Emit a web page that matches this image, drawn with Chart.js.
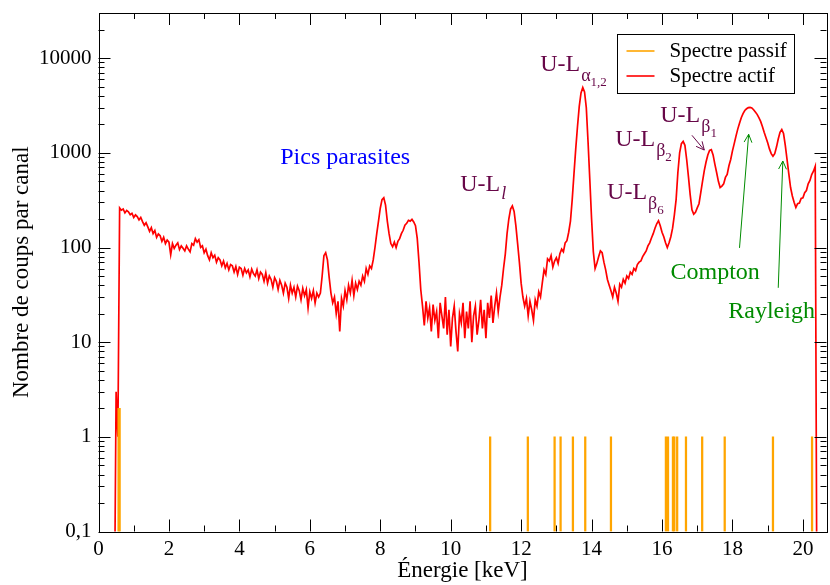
<!DOCTYPE html>
<html>
<head>
<meta charset="utf-8">
<script src="https://cdn.jsdelivr.net/npm/chart.js@4.4.0/dist/chart.umd.min.js"></script>
<style>
  html, body { margin: 0; padding: 0; background: #fff; }
  #wrap { width: 830px; height: 585px; }
</style>
</head>
<body>
<div id="wrap"><canvas id="spectrum" width="830" height="585"></canvas></div>
<script>
'use strict';

// ---- data ------------------------------------------------------------
// active spectrum: counts per channel, channels 0.05 keV wide from 0.45 keV
const channelStart = 0.45;
const channelWidth = 0.05;
const activeCounts = [
  0.01, 3, 1, 262, 248, 255, 232, 246, 238, 222, 230, 208, 221, 212, 196, 208, 188, 172, 183, 165,    // 0.45 - 1.40
  148, 162, 140, 151, 128, 139, 133, 116, 128, 110, 120, 114, 84, 110, 98, 106, 112, 95, 104, 98,     // 1.45 - 2.40
  92, 104, 96, 90, 110, 106, 124, 114, 121, 100, 104, 88, 96, 82, 74, 88, 78, 83, 70, 78,             // 2.45 - 3.40
  74, 64, 72, 61, 68, 58, 66, 64, 55, 63, 52, 62, 60, 51, 60, 54, 58, 49, 59, 53,                    // 3.45 - 4.40
  50, 58, 47, 55, 52, 44, 54, 42, 50, 46, 38, 48, 44, 36, 45, 40, 33, 42, 38, 29,                    // 4.45 - 5.40
  40, 33, 38, 30, 39, 35, 28, 37, 31, 36, 23, 34, 29, 35, 26, 33, 30, 33, 50, 82,                    // 5.45 - 6.40
  88, 74, 48, 33, 26, 30, 20, 27, 13, 29, 24, 35, 28, 40, 33, 45, 31, 42, 36, 44,                    // 6.45 - 7.40
  40, 50, 44, 60, 52, 64, 60, 74, 100, 140, 190, 260, 320, 335, 280, 190, 140, 110, 102, 114,        // 7.45 - 8.40
  100, 116, 124, 140, 152, 172, 180, 194, 190, 198, 186, 170, 125, 70, 36, 24, 15, 27, 18, 23,       // 8.45 - 9.40
  13, 25, 17, 21, 11, 26, 19, 14, 30, 12, 22, 9, 18, 24, 13, 8, 20, 16, 26, 11,                      // 9.45 - 10.40
  21, 14, 27, 10, 19, 24, 12, 17, 28, 14, 22, 11, 26, 18, 31, 16, 24, 33, 21, 30,                    // 10.45 - 11.40
  40, 60, 85, 140, 200, 255, 275, 240, 170, 110, 70, 42, 30, 24, 29, 19, 27, 22, 17, 28,             // 11.45 - 12.40
  24, 34, 30, 42, 58, 52, 76, 72, 82, 62, 72, 78, 68, 86, 96, 90, 112, 118, 145, 190,                // 12.45 - 13.40
  320, 600, 1100, 1900, 3100, 4300, 4900, 4400, 3000, 1300, 520, 200, 90, 60, 68, 80, 92, 88, 70, 58, // 13.45 - 14.40
  46, 40, 35, 30, 38, 33, 27, 41, 38, 46, 42, 50, 47, 55, 52, 60, 57, 66, 70, 72,                    // 14.45 - 15.40
  80, 86, 92, 104, 112, 126, 140, 160, 178, 192, 170, 145, 130, 112, 100, 112, 130, 160, 220, 320,   // 15.45 - 16.40
  620, 1000, 1250, 1320, 1200, 850, 560, 360, 250, 225, 235, 262, 290, 380, 500, 650, 800, 950, 1060, 1080, // 16.45 - 17.40
  950, 760, 620, 500, 430, 445, 470, 550, 590, 730, 850, 1050, 1250, 1500, 1780, 2050, 2350, 2600, 2800, 2920, // 17.45 - 18.40
  3000, 3020, 2980, 2850, 2700, 2550, 2350, 2150, 1900, 1650, 1450, 1280, 1100, 980, 920, 980, 1150, 1400, 1650, 1760, // 18.45 - 19.40
  1600, 1200, 850, 600, 430, 350, 300, 265, 290, 295, 330, 335, 380, 400, 470, 510, 590, 640, 720, 0.01 // 19.45 - 20.40
];

// passive spectrum: the few channels that got a count
const passiveEnergy = [0.57, 0.60, 11.12, 12.19, 12.95, 13.12, 13.47, 13.82, 14.55, 16.11, 16.17, 16.31, 16.35, 16.43, 16.68, 17.14, 17.78, 19.15, 20.26];
const passiveCounts = [2, 2, 1, 1, 1, 1, 1, 1, 1, 1, 1, 1, 1, 1, 1, 1, 1, 1, 1];

const seriesNames = ['Spectre passif', 'Spectre actif'];
const xTicks = [0, 2, 4, 6, 8, 10, 12, 14, 16, 18, 20];
const yTicks = [0.1, 1, 10, 100, 1000, 10000];
const xRange = [0, 20.67];
const yRange = [0.1, 30000];

// peak labels, anchored in data space (keV, counts) at the left baseline
const peakLabels = [
  { e: 10.27, c: 392,  sym: 'l', idx: '',    italic: true },
  { e: 12.54, c: 7280, sym: 'α', idx: '1,2', italic: false },
  { e: 14.67, c: 1172, sym: 'β', idx: '2',   italic: false },
  { e: 15.95, c: 2100, sym: 'β', idx: '1',   italic: false },
  { e: 14.44, c: 322,  sym: 'β', idx: '6',   italic: false }
];
const notes = [
  { e: 5.16,  c: 755,  text: 'Pics parasites', color: '#0000ff' },
  { e: 16.24, c: 47,   text: 'Compton',        color: '#008b00' },
  { e: 17.88, c: 18.2, text: 'Rayleigh',       color: '#008b00' }
];
const arrows = [
  { from: [16.85, 1531], to: [17.20, 1070], color: '#670748' },
  { from: [18.20, 99],   to: [18.46, 1570], color: '#008b00' },
  { from: [19.30, 37.5], to: [19.43, 819],  color: '#008b00' }
];

// ---- styling ------------------------------------------------------------
const FONT = '"Liberation Serif"';
const PURPLE = '#670748';
const COL_PASSIVE = '#ffa500';
const COL_ACTIVE = '#ff0000';

const activePoints = activeCounts.map((c, i) => ({ x: channelStart + i * channelWidth, y: c }));
const passivePoints = passiveEnergy.map((e, i) => ({ x: e, y: passiveCounts[i] }));

// keep the plot frame exactly where the layout padding puts it
const noLabelPadding = s => { s.paddingTop = 0; s.paddingBottom = 0; s.paddingLeft = 0; s.paddingRight = 0; };

// inward ticks on all four sides, frame, legend and annotations
const framePlugin = {
  id: 'frame',
  afterDatasetsDraw(chart) {
    const { ctx, chartArea: a, scales: { x, y } } = chart;
    const snap = v => Math.round(v) + 0.5;
    ctx.save();
    ctx.strokeStyle = '#000';
    ctx.lineWidth = 1;
    ctx.strokeRect(snap(a.left), snap(a.top), Math.round(a.right - a.left), Math.round(a.bottom - a.top));

    ctx.beginPath();
    for (let v = 0; v <= xRange[1]; v += 1) {
      const px = snap(x.getPixelForValue(v));
      const len = v % 2 === 0 ? 12 : 6;
      ctx.moveTo(px, a.bottom); ctx.lineTo(px, a.bottom - len);
      ctx.moveTo(px, a.top); ctx.lineTo(px, a.top + len);
    }
    yTicks.forEach(d => {
      for (let m = 1; m <= 9; m++) {
        const v = d * m;
        if (v >= yRange[1]) break;
        const py = snap(y.getPixelForValue(v));
        const len = m === 1 ? 12 : 6;
        ctx.moveTo(a.left, py); ctx.lineTo(a.left + len, py);
        ctx.moveTo(a.right, py); ctx.lineTo(a.right - len, py);
      }
    });
    ctx.stroke();

    // legend box
    const lx = snap(a.right - 210), ly = snap(a.top + 21);
    ctx.fillStyle = '#fff';
    ctx.fillRect(lx, ly, 177, 59);
    ctx.strokeRect(lx, ly, 177, 59);
    ctx.font = '21px ' + FONT;
    ctx.textBaseline = 'alphabetic';
    ctx.textAlign = 'left';
    [[COL_PASSIVE, 16.5, 22], [COL_ACTIVE, 41.5, 47]].forEach(([col, off, base], i) => {
      ctx.strokeStyle = col;
      ctx.lineWidth = 1.6;
      ctx.beginPath();
      ctx.moveTo(lx + 9, ly + off); ctx.lineTo(lx + 37, ly + off);
      ctx.stroke();
      ctx.fillStyle = '#000';
      ctx.fillText(seriesNames[i], lx + 52, ly + base);
    });

    // peak labels
    peakLabels.forEach(p => {
      const px = x.getPixelForValue(p.e), py = y.getPixelForValue(p.c);
      ctx.fillStyle = PURPLE;
      ctx.font = '24px ' + FONT;
      ctx.fillText('U-L', px, py);
      let cx = px + ctx.measureText('U-L').width + 1;
      ctx.font = (p.italic ? 'italic ' : '') + '18px ' + FONT;
      ctx.fillText(p.sym, cx, py + (p.italic ? 8 : 10));
      cx += ctx.measureText(p.sym).width;
      if (p.idx) {
        ctx.font = '13px ' + FONT;
        ctx.fillText(p.idx, cx, py + 15);
      }
    });

    notes.forEach(n => {
      ctx.fillStyle = n.color;
      ctx.font = '24px ' + FONT;
      ctx.fillText(n.text, x.getPixelForValue(n.e), y.getPixelForValue(n.c));
    });

    arrows.forEach(ar => {
      const x0 = x.getPixelForValue(ar.from[0]), y0 = y.getPixelForValue(ar.from[1]);
      const x1 = x.getPixelForValue(ar.to[0]), y1 = y.getPixelForValue(ar.to[1]);
      const ang = Math.atan2(y1 - y0, x1 - x0);
      ctx.strokeStyle = ar.color;
      ctx.lineWidth = 1;
      ctx.beginPath();
      ctx.moveTo(x0, y0); ctx.lineTo(x1, y1);
      [0.45, -0.45].forEach(da => {
        ctx.moveTo(x1, y1);
        ctx.lineTo(x1 - 9 * Math.cos(ang + da), y1 - 9 * Math.sin(ang + da));
      });
      ctx.stroke();
    });
    ctx.restore();
  }
};

new Chart(document.getElementById('spectrum'), {
  type: 'line',
  data: {
    datasets: [
      {
        type: 'bar',
        label: seriesNames[0],
        data: passivePoints,
        backgroundColor: COL_PASSIVE,
        borderWidth: 0,
        barThickness: 1.6,
        grouped: false
      },
      {
        type: 'line',
        label: seriesNames[1],
        data: activePoints,
        borderColor: COL_ACTIVE,
        borderWidth: 1.7,
        pointRadius: 0,
        tension: 0,
        fill: false
      }
    ]
  },
  options: {
    responsive: false,
    devicePixelRatio: 1,
    animation: false,
    layout: { padding: { top: 13, right: 3.5, left: 0, bottom: 0 } },
    plugins: { legend: { display: false }, tooltip: { enabled: false } },
    scales: {
      x: {
        type: 'linear',
        min: xRange[0], max: xRange[1],
        offset: false,
        grid: { display: false, drawTicks: false, offset: false },
        border: { display: false },
        afterBuildTicks: s => { s.ticks = xTicks.map(v => ({ value: v })); },
        afterFit: s => { s.height = 53.5; noLabelPadding(s); },
        ticks: { color: '#000', font: { family: FONT, size: 21 }, padding: 5, maxRotation: 0, autoSkip: false },
        title: { display: true, text: 'Énergie [keV]', color: '#000', font: { family: FONT, size: 23 }, padding: { top: 0, bottom: 0 } }
      },
      y: {
        type: 'logarithmic',
        min: yRange[0], max: yRange[1],
        grid: { display: false, drawTicks: false },
        border: { display: false },
        afterBuildTicks: s => { s.ticks = yTicks.map(v => ({ value: v })); },
        afterFit: s => { s.width = 98.5; noLabelPadding(s); },
        ticks: {
          color: '#000', font: { family: FONT, size: 21 }, padding: 7, autoSkip: false,
          callback: v => String(v).replace('.', ',')
        },
        title: { display: true, text: 'Nombre de coups par canal', color: '#000', font: { family: FONT, size: 23 }, padding: { top: 8, bottom: 0 } }
      }
    }
  },
  plugins: [framePlugin]
});
</script>
</body>
</html>
